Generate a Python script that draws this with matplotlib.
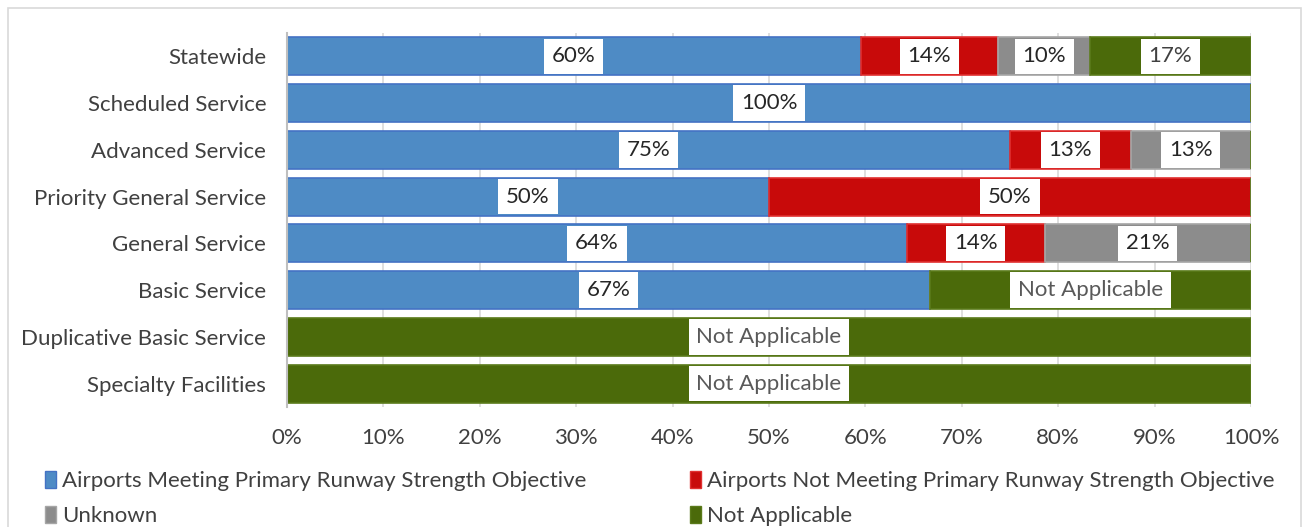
import math
import matplotlib
matplotlib.use("Agg")
import matplotlib.pyplot as plt
from matplotlib.patches import Patch, Rectangle

plt.rcParams["font.family"] = ["Lato", "DejaVu Sans"]

categories = [
    "Statewide",
    "Scheduled Service",
    "Advanced Service",
    "Priority General Service",
    "General Service",
    "Basic Service",
    "Duplicative Basic Service",
    "Specialty Facilities",
]
meeting        = [59.5, 100.0, 75.0, 50.0, 64.3, 66.7, 0.0, 0.0]
not_meeting    = [14.3, 0.0, 12.5, 50.0, 14.3, 0.0, 0.0, 0.0]
unknown        = [9.5, 0.0, 12.5, 0.0, 21.4, 0.0, 0.0, 0.0]
not_applicable = [16.7, 0.0, 0.0, 0.0, 0.0, 33.3, 100.0, 100.0]
na_labels      = ["17%", "", "", "", "", "Not Applicable", "Not Applicable", "Not Applicable"]

series_names = [
    "Airports Meeting Primary Runway Strength Objective",
    "Airports Not Meeting Primary Runway Strength Objective",
    "Unknown",
    "Not Applicable",
]
fills = ["#4E8BC5", "#C80A0A", "#8C8C8C", "#4B6A0A"]
edges = ["#4472C4", "#E03030", "#A6A6A6", "#5A7A1A"]

TXT = "#404040"
FS = 16


def pct(v):
    return f"{math.floor(v + 0.5)}%"


fig = plt.figure(figsize=(13.08, 5.27), dpi=100)
ax = fig.add_axes([287 / 1308, 1 - 407 / 527, (1251 - 287) / 1308, (407 - 33) / 527])

# light frame around the chart, like the Excel chart area
fig.patches.append(Rectangle((8 / 1308, -0.05), (1301 - 8) / 1308, 1.05 - 8 / 527,
                             transform=fig.transFigure, fill=False,
                             edgecolor="#D9D9D9", linewidth=1.2))

y = list(range(len(categories)))
left = [0.0] * len(categories)
all_series = [meeting, not_meeting, unknown, not_applicable]
for k, vals in enumerate(all_series):
    ax.barh(y, vals, left=left, height=0.81, color=fills[k], edgecolor=edges[k],
            linewidth=1.2, zorder=2)
    for i, v in enumerate(vals):
        if v <= 0:
            continue
        if k == 3:
            lab = na_labels[i]
            col = "#595959" if lab == "Not Applicable" else TXT
        else:
            lab = pct(v)
            col = "#262626"
        ax.text(left[i] + v / 2, i, lab, ha="center", va="center", fontsize=FS,
                color=col, zorder=4,
                bbox=dict(boxstyle="square,pad=0.35", facecolor="white", edgecolor="none"))
    left = [a + b for a, b in zip(left, vals)]

ax.set_xlim(0, 100)
ax.set_ylim(len(categories) - 0.5, -0.5)
ax.set_yticks(y)
ax.set_yticklabels(categories, fontsize=FS, color=TXT)
ax.set_xticks(range(0, 101, 10))
ax.set_xticklabels([f"{t}%" for t in range(0, 101, 10)], fontsize=FS, color=TXT)
ax.tick_params(axis="both", length=0)
ax.tick_params(axis="x", pad=15)
ax.tick_params(axis="y", pad=15)
ax.grid(axis="x", color="#D9D9D9", linewidth=1.2, zorder=0)
ax.set_axisbelow(True)
for s in ["top", "right", "bottom"]:
    ax.spines[s].set_visible(False)
ax.spines["left"].set_color("#BFBFBF")
ax.spines["left"].set_linewidth(1.5)

handles = [Patch(facecolor=fills[k], edgecolor=edges[k]) for k in range(4)]
leg_kw = dict(frameon=False, fontsize=FS, handlelength=0.5, handleheight=0.8,
              handletextpad=0.25, labelspacing=0.65, loc="upper left",
              labelcolor=TXT, borderaxespad=0, borderpad=0)
fig.legend([handles[0], handles[2]], [series_names[0], series_names[2]],
           bbox_to_anchor=(45 / 1308, 1 - 471 / 527), **leg_kw)
fig.legend([handles[1], handles[3]], [series_names[1], series_names[3]],
           bbox_to_anchor=(690 / 1308, 1 - 471 / 527), **leg_kw)

fig.savefig("out.png", dpi=100)
